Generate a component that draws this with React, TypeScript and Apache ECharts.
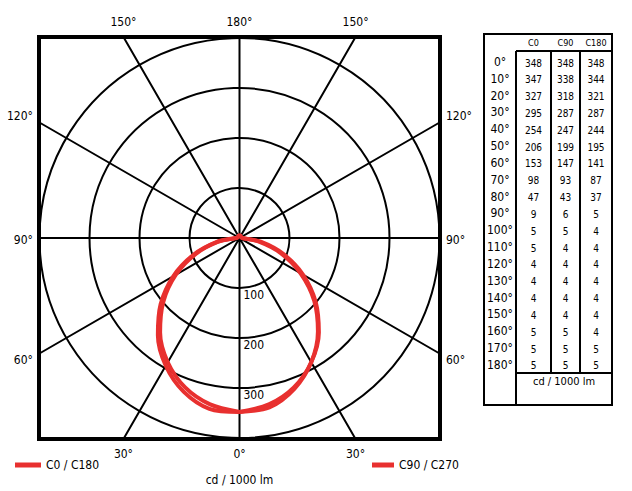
import React, { useEffect, useRef } from "react";
import * as echarts from "echarts";

// ---------- data ----------
const gammaAngles = [0, 10, 20, 30, 40, 50, 60, 70, 80, 90, 100, 110, 120, 130, 140, 150, 160, 170, 180];
const c0Values = [348, 347, 327, 295, 254, 206, 153, 98, 47, 9, 5, 5, 4, 4, 4, 4, 5, 5, 5];
const c90Values = [348, 338, 318, 287, 247, 199, 147, 93, 43, 6, 5, 4, 4, 4, 4, 4, 5, 5, 5];
const c180Values = [348, 344, 321, 287, 244, 195, 141, 87, 37, 5, 4, 4, 4, 4, 4, 4, 4, 5, 5];
const tableColumns = ["C0", "C90", "C180"];
const radiusTicks = [100, 200, 300];
const gridAngles = [0, 30, 60, 90, 120, 150, 180, 210, 240, 270, 300, 330];
const seriesNames = ["C0 / C180", "C90 / C270"];
const unitLabel = "cd / 1000 lm";

// ---------- layout / style ----------
const FONT = "'DejaVu Sans Condensed', 'Liberation Sans Narrow', sans-serif";
const RED = "#e8302f";
const BOX_L = 39, BOX_T = 37, BOX_W = 401, BOX_H = 402;
const CX = BOX_L + BOX_W / 2, CY = BOX_T + BOX_H / 2;
const R_PX = 200, R_MAX = 400;
const XHALF = (BOX_W / 2) * (R_MAX / R_PX);
const YHALF = (BOX_H / 2) * (R_MAX / R_PX);

function edgePoint(a: number) {
  const rad = (a * Math.PI) / 180;
  const dx = -Math.sin(rad), dy = -Math.cos(rad);
  const tx = Math.abs(dx) > 1e-9 ? XHALF / Math.abs(dx) : Infinity;
  const ty = Math.abs(dy) > 1e-9 ? YHALF / Math.abs(dy) : Infinity;
  const t = Math.min(tx, ty);
  return { x: dx * t, y: dy * t, edge: tx < ty ? (dx < 0 ? "left" : "right") : dy < 0 ? "bottom" : "top" };
}

const labelOf = (a: number) => `${a <= 180 ? a : 360 - a}°`;
const edgeVals: Record<string, { v: number; t: string }[]> = { left: [], right: [], top: [], bottom: [] };
gridAngles.forEach((a) => {
  const p = edgePoint(a);
  let v = p.edge === "left" || p.edge === "right" ? p.y : p.x;
  // side labels sit a little further from the horizontal axis than the line ends
  if (p.edge === "left" || p.edge === "right") v = Math.abs(v) < 1 ? -4 : v + Math.sign(v) * 13;
  edgeVals[p.edge].push({ v: Math.round(v * 10) / 10, t: labelOf(a) });
});
const fmt = (edge: string) => (val: number) => {
  const f = edgeVals[edge].find((e) => Math.abs(e.v - val) < 0.5);
  return f ? f.t : "";
};

export default function App() {
  const ref = useRef<HTMLDivElement>(null);
  useEffect(() => {
    if (!ref.current) return;
    const chart = echarts.init(ref.current, undefined, { renderer: "svg" });

    const radialData: number[][] = [];
    gridAngles.forEach((a) => {
      const p = edgePoint(a);
      radialData.push([0, 0], [p.x, p.y]);
    });

    const loopA: number[][] = [];
    gammaAngles.forEach((g, i) => loopA.push([c0Values[i], g]));
    for (let i = gammaAngles.length - 1; i >= 0; i--) loopA.push([c180Values[i], 360 - gammaAngles[i]]);
    const loopB: number[][] = [];
    gammaAngles.forEach((g, i) => loopB.push([c90Values[i], g]));
    for (let i = gammaAngles.length - 1; i >= 0; i--) loopB.push([c90Values[i], 360 - gammaAngles[i]]);

    const axisLabelBase = { color: "#000", fontSize: 12, fontFamily: FONT };
    const mkX = (pos: string) => ({
      type: "value", position: pos, min: -XHALF, max: XHALF,
      axisLine: { show: false }, axisTick: { show: false }, splitLine: { show: false },
      axisLabel: { ...axisLabelBase, margin: 9, customValues: edgeVals[pos].map((e) => e.v), formatter: fmt(pos) },
    });
    const mkY = (pos: string) => ({
      type: "value", position: pos, min: -YHALF, max: YHALF,
      axisLine: { show: false }, axisTick: { show: false }, splitLine: { show: false },
      axisLabel: { ...axisLabelBase, margin: 6, customValues: edgeVals[pos].map((e) => e.v), formatter: fmt(pos) },
    });

    // table
    const tL = 484, tT = 34, tR = 612, tB = 405;
    const divs = [516, 551, 580];
    const headY = 51, footY = 373, row0 = 62, rowStep = 16.83;
    const colCenters = [(divs[0] + divs[1]) / 2, (divs[1] + divs[2]) / 2, (divs[2] + tR) / 2];
    const colVals = [c0Values, c90Values, c180Values];
    const tbl: any[] = [
      { type: "rect", shape: { x: tL, y: tT, width: tR - tL, height: tB - tT }, style: { fill: "none", stroke: "#000", lineWidth: 2 } },
      { type: "line", shape: { x1: divs[0], y1: headY, x2: divs[0], y2: tB }, style: { stroke: "#000", lineWidth: 2 } },
      { type: "line", shape: { x1: divs[1], y1: headY, x2: divs[1], y2: footY }, style: { stroke: "#000", lineWidth: 2 } },
      { type: "line", shape: { x1: divs[2], y1: headY, x2: divs[2], y2: footY }, style: { stroke: "#000", lineWidth: 2 } },
      { type: "line", shape: { x1: divs[0], y1: headY, x2: tR, y2: headY }, style: { stroke: "#000", lineWidth: 2 } },
      { type: "line", shape: { x1: divs[0], y1: footY, x2: tR, y2: footY }, style: { stroke: "#000", lineWidth: 2 } },
      { type: "text", x: (divs[0] + tR) / 2, y: 381, style: { text: unitLabel, fontSize: 11, fontFamily: FONT, fill: "#000", textAlign: "center", textVerticalAlign: "middle" } },
    ];
    tableColumns.forEach((c, j) => {
      tbl.push({ type: "text", x: colCenters[j], y: 43, style: { text: c, fontSize: 9, fontFamily: FONT, fill: "#000", textAlign: "center", textVerticalAlign: "middle" } });
    });
    gammaAngles.forEach((g, i) => {
      const y = row0 + i * rowStep;
      tbl.push({ type: "text", x: 500, y, style: { text: `${g}°`, fontSize: 12, fontFamily: FONT, fill: "#000", textAlign: "center", textVerticalAlign: "middle" } });
      colVals.forEach((arr, j) => {
        tbl.push({ type: "text", x: colCenters[j], y: y + 1, style: { text: String(arr[i]), fontSize: 10, fontFamily: FONT, fill: "#000", textAlign: "center", textVerticalAlign: "middle" } });
      });
    });
    const rLabels = radiusTicks.map((r) => ({
      type: "text", x: CX + 4, y: CY + (r / R_MAX) * R_PX + 1, z: 5,
      style: { text: String(r), fontSize: 12, fontFamily: FONT, fill: "#000", textAlign: "left", textVerticalAlign: "top" },
    }));

    chart.setOption({
      animation: false,
      backgroundColor: "#fff",
      grid: { left: BOX_L, top: BOX_T, width: BOX_W, height: BOX_H, show: true, borderColor: "#000", borderWidth: 4, backgroundColor: "transparent" },
      xAxis: [mkX("bottom"), mkX("top")],
      yAxis: [mkY("left"), mkY("right")],
      polar: { center: [CX, CY], radius: R_PX },
      angleAxis: {
        type: "value", min: 0, max: 360, startAngle: 270, clockwise: true,
        axisLine: { show: false }, axisTick: { show: false }, axisLabel: { show: false }, splitLine: { show: false },
      },
      radiusAxis: {
        type: "value", min: 0, max: R_MAX, interval: 100,
        axisLine: { show: false }, axisTick: { show: false }, axisLabel: { show: false },
        splitLine: { show: true, lineStyle: { color: "#000", width: 2 } },
      },
      legend: [
        { data: [seriesNames[0]], left: 15, top: 459, padding: 0, icon: "rect", itemWidth: 26, itemHeight: 5, textStyle: { fontSize: 12, fontFamily: FONT, color: "#000" } },
        { data: [seriesNames[1]], left: 372, top: 459, padding: 0, icon: "rect", itemWidth: 22, itemHeight: 5, textStyle: { fontSize: 12, fontFamily: FONT, color: "#000" } },
      ],
      series: [
        { type: "line", xAxisIndex: 0, yAxisIndex: 0, data: radialData, showSymbol: false, silent: true, lineStyle: { color: "#000", width: 2 }, z: 1 },
        { name: seriesNames[1], type: "line", coordinateSystem: "polar", data: loopB, showSymbol: false, smooth: 0.3, color: RED, lineStyle: { color: RED, width: 4 }, z: 3 },
        { name: seriesNames[0], type: "line", coordinateSystem: "polar", data: loopA, showSymbol: false, smooth: 0.3, color: RED, lineStyle: { color: RED, width: 4 }, z: 4 },
      ],
      graphic: [
        ...rLabels,
        { type: "text", x: CX, y: 480, style: { text: unitLabel, fontSize: 12, fontFamily: FONT, fill: "#000", textAlign: "center", textVerticalAlign: "middle" } },
        ...tbl,
      ],
    });
    return () => chart.dispose();
  }, []);
  return <div ref={ref} style={{ position: "fixed", left: 0, top: 0, width: 632, height: 491 }} />;
}
